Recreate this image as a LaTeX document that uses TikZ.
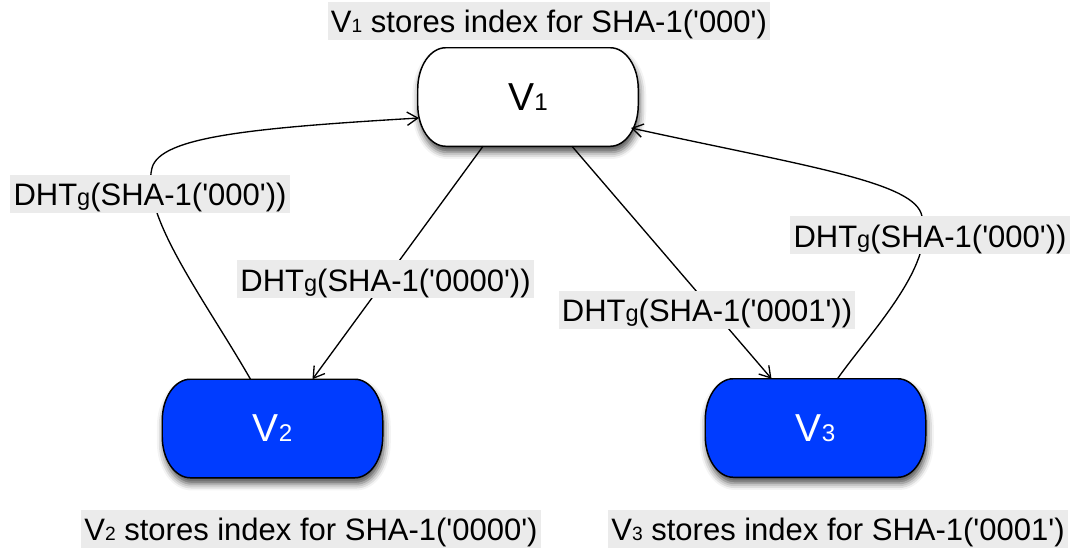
\documentclass[tikz,border=0pt]{standalone}
\usepackage{fontspec}
\usepackage{graphicx}
\setmainfont{Liberation Sans}
\usetikzlibrary{arrows.meta,calc,shadows.blur}
\definecolor{nodeblue}{RGB}{0,60,255}
\definecolor{tagbg}{RGB}{235,235,235}
\pgfdeclarelayer{background}
\pgfsetlayers{background,main}
% small index digits sitting on the baseline
\newcommand\sbs[1]{\scalebox{0.62}{#1}}
\newcommand\gsub{\scalebox{0.76}{g}}
\newcommand\q{\textquotesingle}
% pill outline with elliptic corners behind a named node
\newcommand\pill[2]{%
  \begin{pgfonlayer}{background}
  \path[pillpath, fill=#2]
    ($(#1.north west)+(21pt,0)$) -- ($(#1.north east)+(-21pt,0)$)
    arc[start angle=90, end angle=0, x radius=21pt, y radius=31pt]
    -- ($(#1.south east)+(0,31pt)$)
    arc[start angle=0, end angle=-90, x radius=21pt, y radius=31pt]
    -- ($(#1.south west)+(21pt,0)$)
    arc[start angle=-90, end angle=-180, x radius=21pt, y radius=31pt]
    -- ($(#1.north west)+(0,-31pt)$)
    arc[start angle=180, end angle=90, x radius=21pt, y radius=31pt]
    -- cycle;
  \end{pgfonlayer}}

\begin{document}
\begin{tikzpicture}[x=0.75pt,y=-0.75pt,
  vnode/.style={minimum width=165pt, minimum height=73.5pt, inner sep=0pt,
    font=\fontsize{29.25pt}{32pt}\selectfont},
  pillpath/.style={draw=black, line width=1.1pt,
    blur shadow={shadow xshift=1pt, shadow yshift=-4.5pt,
      shadow blur radius=5pt, shadow opacity=70}},
  tag/.style={fill=tagbg, inner xsep=2.5pt, inner ysep=0.75pt,
    text height=22.5pt, text depth=4.5pt,
    font=\fontsize{23.25pt}{28pt}\selectfont},
  link/.style={line width=1pt,
    -{Straight Barb[length=8pt,width=10pt,line width=1pt]}},
]
\useasboundingbox (0,0) rectangle (1076,550);

% peers
\node[vnode] (V1) at (528,97) {V\sbs{1}};
\node[vnode, text=white] (V2) at (272.5,428.5) {V\sbs{2}};
\node[vnode, text=white] (V3) at (815.5,428) {V\sbs{3}};
\pill{V1}{white}
\pill{V2}{nodeblue}
\pill{V3}{nodeblue}

% lookups from V1 to the two peers
\draw[link] ($(V1.south)+(-45,0)$) -- ($(V2.north)+(40,0)$);
\draw[link] ($(V1.south)+(44,0)$) -- ($(V3.north)+(-44,0)$);

% lookups back to V1
\coordinate (bendL) at (152,168);
\draw[link] ($(V2.north)+(-22,0)$) .. controls (205,300) and (140,215) .. (bendL)
  .. controls (160,137) and (250,128) .. ($(V1.center)+(-109,21)$);
\coordinate (bendR) at (921,213);
\draw[link] ($(V3.north)+(22,0)$) .. controls (872,330) and (939,262) .. (bendR)
  .. controls (909,181) and (800,165) .. ($(V1.center)+(103,31)$);

% edge labels
\node[tag] (lL) at (150,193.5) {DHT\gsub(SHA-1(\q000\q))};
\node[tag] (lA) at (385.5,279) {DHT\gsub(SHA-1(\q0000\q))};
\node[tag] (lB) at (707,309.5) {DHT\gsub(SHA-1(\q0001\q))};
\node[tag] (lR) at (930,235) {DHT\gsub(SHA-1(\q000\q))};

% storage notes
\node[tag] (n1) at (549,20.5) {V\sbs{1} stores index for SHA-1(\q000\q)};
\node[tag] (n2) at (311,528.5) {V\sbs{2} stores index for SHA-1(\q0000\q)};
\node[tag] (n3) at (838,528.5) {V\sbs{3} stores index for SHA-1(\q0001\q)};
\end{tikzpicture}
\end{document}
